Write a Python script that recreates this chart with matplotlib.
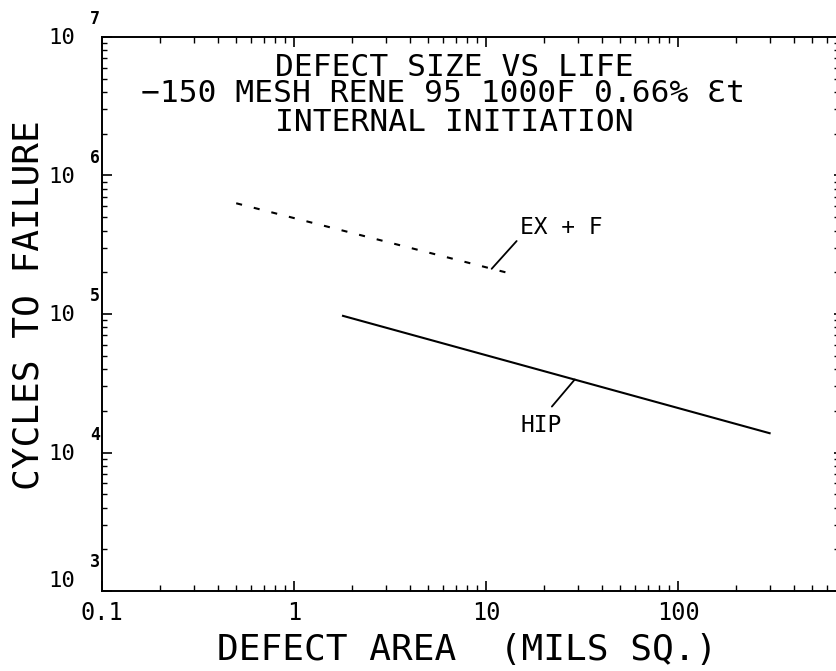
import matplotlib
matplotlib.use("Agg")
import matplotlib.pyplot as plt
from matplotlib.ticker import FixedLocator, FuncFormatter, LogLocator, NullFormatter

plt.rcParams["font.family"] = ["DejaVu Sans Mono", "DejaVu Sans"]

# data
EXF_AREA = [0.5, 14.2]
EXF_CYCLES = [6.3e5, 1.92e5]
HIP_AREA = [1.8, 300]
HIP_CYCLES = [9.7e4, 1.38e4]

EXF_LABEL_AT = (10.7, 2.12e5)
HIP_LABEL_AT = (29, 3.37e4)

X_MAJOR = [0.1, 1, 10, 100]
X_LABELS = ["0.1", "1", "10", "100"]
Y_DECADES = [3, 4, 5, 6, 7]

TITLE_LINES = [
    "DEFECT SIZE VS LIFE",
    "\u2212150 MESH RENE 95 1000F 0.66% \u0190t",
    "INTERNAL INITIATION",
]

fig = plt.figure(figsize=(8.36, 6.71), dpi=100)
ax = fig.add_axes([0.122, 0.119, 0.878, 0.826])
ax.set_xscale("log")
ax.set_yscale("log")
ax.set_xlim(0.1, 665)
ax.set_ylim(1e3, 1e7)

ax.plot(EXF_AREA, EXF_CYCLES, color="black", linewidth=1.5, linestyle=(0, (2.9, 5.8)))
ax.plot(HIP_AREA, HIP_CYCLES, color="black", linewidth=1.5)

# leaders + labels
ax.annotate("", xy=EXF_LABEL_AT, xytext=(18, 20), textcoords="offset points",
            arrowprops=dict(arrowstyle="-", lw=1.3, color="black", shrinkA=0, shrinkB=0))
ax.annotate("EX + F", xy=EXF_LABEL_AT, xytext=(20.5, 29.5), textcoords="offset points",
            ha="left", va="center", fontsize=16.5)
ax.annotate("", xy=HIP_LABEL_AT, xytext=(-16.5, -19.5), textcoords="offset points",
            arrowprops=dict(arrowstyle="-", lw=1.3, color="black", shrinkA=0, shrinkB=0))
ax.annotate("HIP", xy=HIP_LABEL_AT, xytext=(-24.5, -33), textcoords="offset points",
            ha="center", va="center", fontsize=16.5)

# title block
ax.text(0.4796, 0.944, TITLE_LINES[0], transform=ax.transAxes, ha="center", va="center", fontsize=22.5)
ax.text(0.464, 0.897, TITLE_LINES[1], transform=ax.transAxes, ha="center", va="center", fontsize=22.5)
ax.text(0.4796, 0.845, TITLE_LINES[2], transform=ax.transAxes, ha="center", va="center", fontsize=22.5)

# axes frame and ticks
for side in ["left", "bottom", "top"]:
    ax.spines[side].set_linewidth(1.4)
ax.spines["right"].set_visible(False)

ax.xaxis.set_major_locator(FixedLocator(X_MAJOR))
ax.xaxis.set_major_formatter(FuncFormatter(lambda v, pos: X_LABELS[X_MAJOR.index(v)] if v in X_MAJOR else ""))
ax.xaxis.set_minor_locator(LogLocator(base=10, subs=range(2, 10)))
ax.xaxis.set_minor_formatter(NullFormatter())
ax.yaxis.set_major_locator(FixedLocator([10.0 ** e for e in Y_DECADES]))
ax.yaxis.set_major_formatter(NullFormatter())
ax.yaxis.set_minor_locator(LogLocator(base=10, subs=range(2, 10)))
ax.yaxis.set_minor_formatter(NullFormatter())

ax.tick_params(which="both", direction="in", top=True, color="black")
ax.tick_params(which="major", length=7, width=1.2, labelsize=17, pad=7)
ax.tick_params(which="minor", length=4.5, width=1.0)
ax.tick_params(axis="y", which="minor", length=3.5)
# the right edge only shows faint dots where its ticks fall
ax.tick_params(axis="y", which="both", right=True, labelright=False)
for t in ax.yaxis.get_major_ticks() + ax.yaxis.get_minor_ticks():
    t.tick2line.set_markersize(1.2)
    t.tick2line.set_color("#777777")

# y tick labels: "10" with a raised exponent, plotter style
for e in Y_DECADES:
    dy = 7 if e == Y_DECADES[0] else -1
    ax.annotate("10", xy=(0, 10.0 ** e), xycoords=("axes fraction", "data"),
                xytext=(-28.8, dy), textcoords="offset points",
                ha="center", va="center", fontsize=16, annotation_clip=False)
    ax.annotate(str(e), xy=(0, 10.0 ** e), xycoords=("axes fraction", "data"),
                xytext=(-5, dy + 13.7), textcoords="offset points",
                ha="center", va="center", fontsize=12, fontweight="bold", annotation_clip=False)

fig.text(0.5586, 0.0313, "DEFECT AREA  (MILS SQ.)", ha="center", va="center", fontsize=26)
fig.text(0.0335, 0.5455, "CYCLES TO FAILURE", ha="center", va="center", rotation=90, fontsize=26)

fig.savefig("out.png", dpi=100)
